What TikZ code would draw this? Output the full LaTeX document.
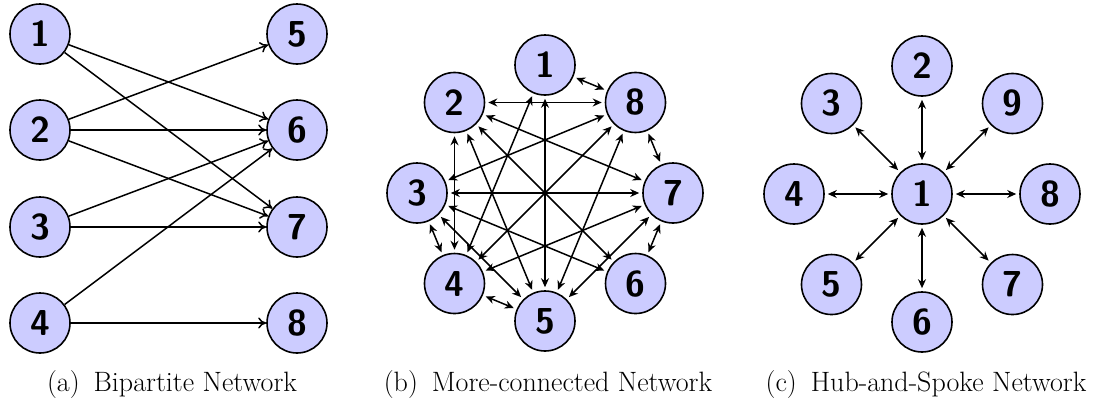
\documentclass[tikz,border=0pt]{standalone}
\usetikzlibrary{arrows.meta,calc}
\begin{document}
\begin{tikzpicture}[x=1pt,y=-1pt,
  nd/.style={circle,draw=black,fill=blue!20,line width=1.6pt,minimum size=60pt,inner sep=0pt,
    font=\fontsize{36}{36}\selectfont\sffamily\bfseries},
  captxt/.style={anchor=base,font=\fontsize{28}{32}\selectfont},
  aedge/.style={line width=1.5pt,-{To[length=8pt,width=11pt]}},
  bedge/.style={line width=1.5pt,{Stealth[open,length=9pt,width=8pt]}-{Stealth[open,length=9pt,width=8pt]},shorten <=3pt,shorten >=3pt}
]
\useasboundingbox (0,0) rectangle (1098,407);
% (a)
\node[nd] (a1) at (40,34) {1};
\node[nd] (a2) at (40,130) {2};
\node[nd] (a3) at (40,227) {3};
\node[nd] (a4) at (40,323) {4};
\node[nd] (a5) at (297,34) {5};
\node[nd] (a6) at (297,130) {6};
\node[nd] (a7) at (297,227) {7};
\node[nd] (a8) at (297,323) {8};
\foreach \s/\t in {a1/a6,a1/a7,a2/a5,a2/a6,a2/a7,a3/a6,a3/a7,a4/a6,a4/a8}
  \draw[aedge] (\s) -- (\t);
\node[captxt] (ca) at (172,391) {(a)\hspace{0.5em}Bipartite Network};
% (b)
\foreach \n/\a in {1/90,2/135,3/180,4/225,5/270,6/315,7/0,8/45}
  \node[nd] (b\n) at ($(545,193)+(-\a:128)$) {\n};
\foreach \s/\t in {1/8,1/5,1/4,2/8,2/7,2/6,2/5,2/4,3/8,3/7,3/6,3/5,3/4,4/8,4/7,4/5,5/8,5/7,6/7,7/8}
  \draw[bedge] (b\s) -- (b\t);
\node[captxt] (cb) at (548,391) {(b)\hspace{0.5em}More-connected Network};
% (c)
\node[nd] (c1) at (922,194) {1};
\foreach \n/\a in {2/90,9/45,8/0,7/315,6/270,5/225,4/180,3/135}
  {\node[nd] (c\n) at ($(922,194)+(-\a:128)$) {\n};
   \draw[bedge] (c1) -- (c\n);}
\node[captxt] (cc) at (926,391) {(c)\hspace{0.5em}Hub-and-Spoke Network};
\end{tikzpicture}
\end{document}
